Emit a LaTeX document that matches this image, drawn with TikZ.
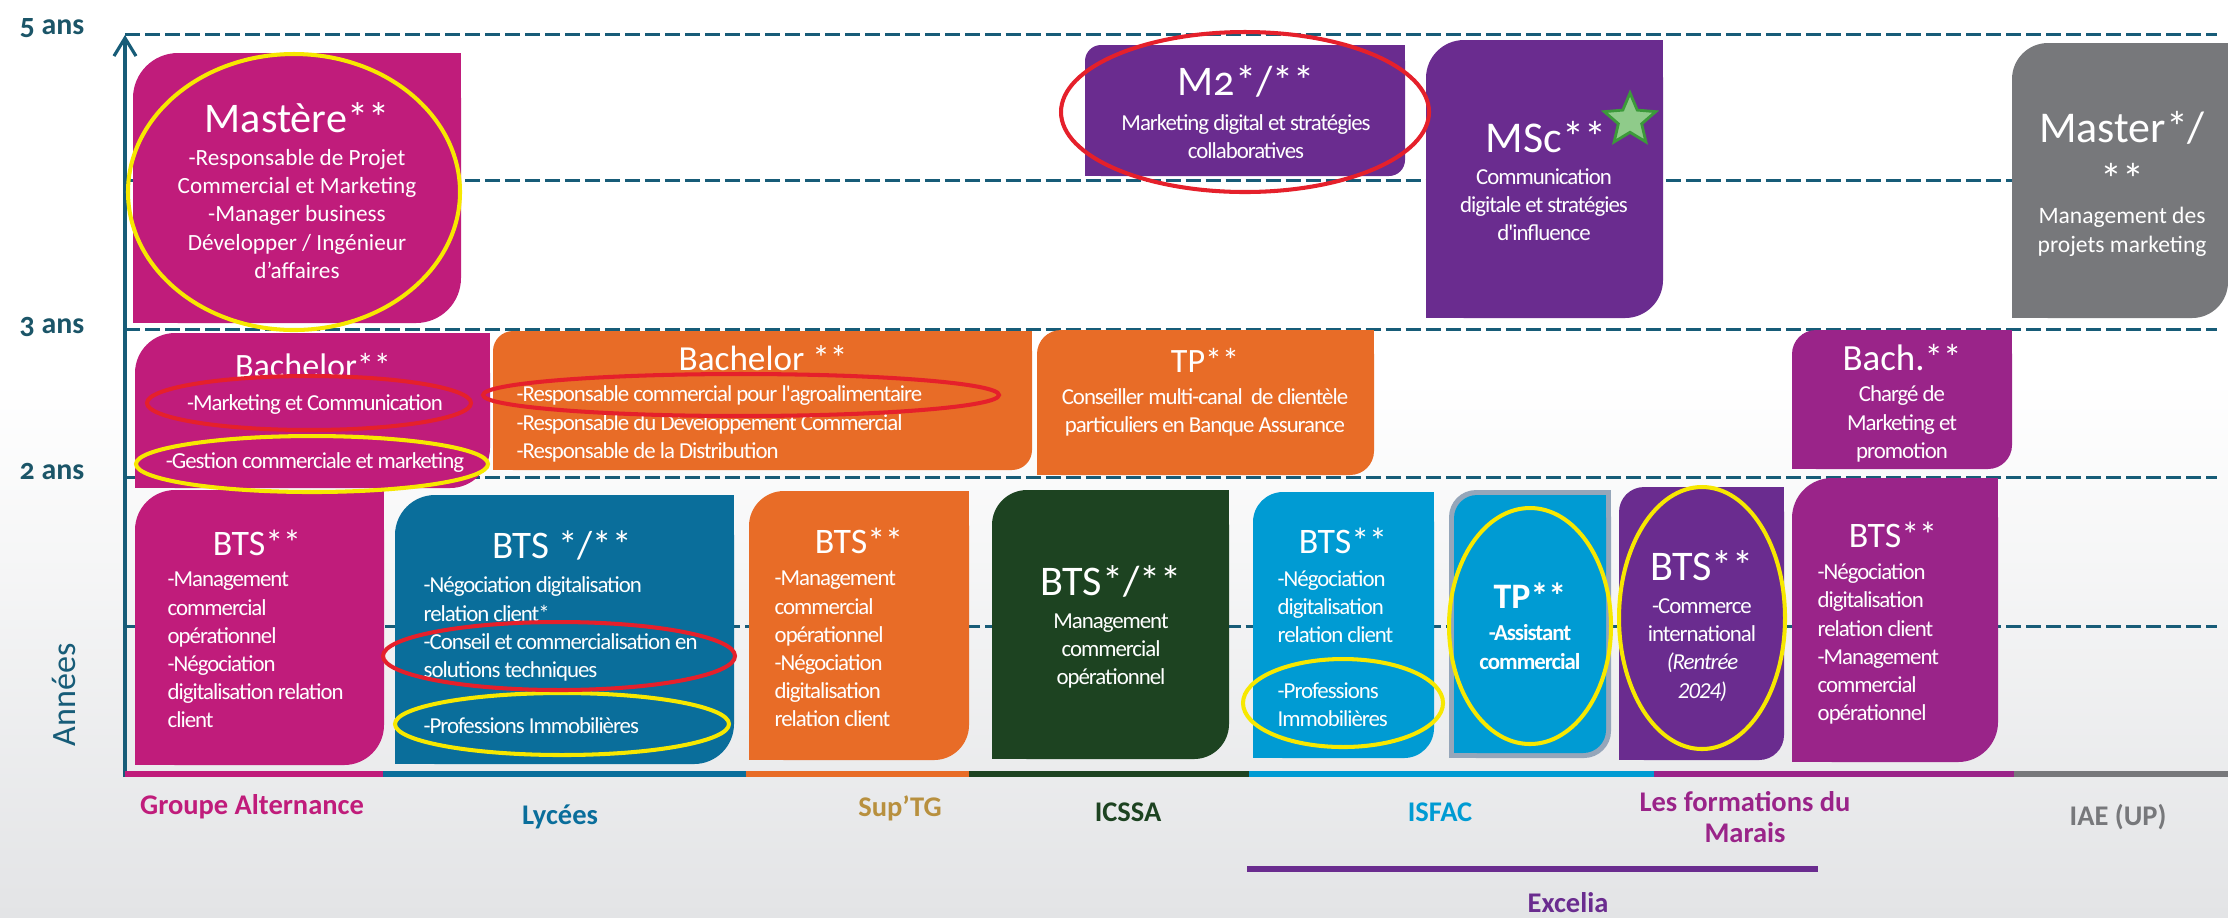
\documentclass[tikz,border=0pt]{standalone}
\usepackage{fontspec}
\setmainfont{Carlito}
\newfontfamily\condfont{Carlito}[LetterSpace=-4.5]
\newfontfamily\numfont{Carlito}[Numbers=OldStyle]
\usetikzlibrary{arrows.meta,shapes.geometric}

\definecolor{gaMag}{HTML}{C01C7B}
\definecolor{supOr}{HTML}{E86C27}
\definecolor{lycTeal}{HTML}{0A6E9B}
\definecolor{icGreen}{HTML}{1D4321}
\definecolor{isBlue}{HTML}{009BD3}
\definecolor{exPurp}{HTML}{6A2C8F}
\definecolor{maPurp}{HTML}{9A2489}
\definecolor{iaeGrey}{HTML}{77787B}
\definecolor{axisBlue}{HTML}{175C78}
\definecolor{ansBlue}{HTML}{1B5568}
\definecolor{supGold}{HTML}{B8903E}
\definecolor{hiYel}{HTML}{F7E800}
\definecolor{hiRed}{HTML}{E5202B}
\definecolor{tpEdge}{HTML}{95A6BA}
\definecolor{starFill}{HTML}{8FCB8A}
\definecolor{starEdge}{HTML}{3C9A3A}
\definecolor{bgGrey}{HTML}{E3E4E6}

% box with rounded top left and bottom right corners
\newcommand\leafbox[6]{%
  \fill[#1, rounded corners=#6] (#2,#3) rectangle (#4,#5);
  \fill[#1] (#4,#3) rectangle ++(-50,50);
  \fill[#1] (#2,#5) rectangle ++(50,-50);
}

\begin{document}
\begin{tikzpicture}[x=0.01cm, y=-0.01cm,
  ttl/.style={text=white, inner sep=0, anchor=base},
  bod/.style={text=white, inner sep=0, font=\condfont\fontsize{6.5}{8.0}\selectfont},
  lbl/.style={inner sep=0, font=\bfseries\fontsize{8.1}{8.8}\selectfont},
  ans/.style={inner sep=0, anchor=base, text=ansBlue, font=\numfont\bfseries\fontsize{8.5}{8.5}\selectfont},
  hl/.style={line width=1.15pt}]
\useasboundingbox (0,0) rectangle (2228,917);
\fill[white] (0,0) rectangle (2228,917);
\shade[top color=white, bottom color=bgGrey] (0,380) rectangle (2228,917);

% year lines
\foreach \y in {34,180,329,477,626}
  \draw[axisBlue, line width=0.85pt, dash pattern=on 0.15cm off 0.05cm] (125,\y) -- (2217,\y);
\draw[axisBlue, line width=0.9pt, -{Straight Barb[length=1.8mm, width=2.2mm]}] (125,777) -- (125,35);

% school colours on the base line
\foreach \a/\b/\c in {125/383/gaMag, 383/746/lycTeal, 746/969/supOr, 969/1249/icGreen,
    1249/1654/isBlue, 1654/2014/maPurp, 2014/2228/iaeGrey}
  \draw[\c, line width=1.6pt] (\a,774) -- (\b,774);
\draw[exPurp, line width=1.6pt] (1247,869) -- (1818,869);

% boxes
\leafbox{gaMag}{133}{53}{461}{323}{0.45cm}
\leafbox{gaMag}{135}{333}{490}{488}{0.40cm}
\leafbox{supOr}{493}{331}{1032}{470}{0.20cm}
\leafbox{supOr}{1037}{330}{1374}{475}{0.24cm}
\leafbox{exPurp}{1085}{45}{1405}{176}{0.16cm}
\leafbox{exPurp}{1426}{40}{1663}{318}{0.38cm}
\leafbox{iaeGrey}{2012}{43}{2228}{318}{0.36cm}
\leafbox{maPurp}{1792}{330}{2012}{469}{0.24cm}
\leafbox{gaMag}{135}{490}{384}{765}{0.40cm}
\leafbox{lycTeal}{395}{495}{734}{764}{0.40cm}
\leafbox{supOr}{749}{491}{969}{760}{0.35cm}
\leafbox{icGreen}{992}{490}{1229}{759}{0.35cm}
\leafbox{isBlue}{1253}{492}{1434}{758}{0.30cm}
\leafbox{tpEdge}{1449}{490}{1611}{758}{0.27cm}
\leafbox{isBlue}{1454}{495}{1606}{753}{0.23cm}
\leafbox{exPurp}{1619}{487}{1784}{760}{0.25cm}
\leafbox{maPurp}{1792}{478}{1998}{762}{0.40cm}

% axis labels
\node[ans] (Y5) at (52,34) {5 ans};
\node[ans] (Y3) at (52,333) {3 ans};
\node[ans] (Y2) at (52,479) {2 ans};
\node[rotate=90, inner sep=0, text=axisBlue, font=\fontsize{9.7}{9.7}\selectfont] (Yr) at (64,695) {Années};

% level 4-5
\node[ttl, font=\fontsize{12}{12}\selectfont] (Mst) at (297,132) {Mastère**};
\node[bod, font=\fontsize{6.6}{8.04}\selectfont, align=center] (MstB) at (297,214)
  {-Responsable de Projet\\Commercial et Marketing\\-Manager business\\Développer / Ingénieur\\d’affaires};
\node[ttl, font=\numfont\fontsize{12}{12}\selectfont] (M2) at (1246,95) {M2*/**};
\node[bod, align=center] (M2B) at (1246,137) {Marketing digital et stratégies\\collaboratives};
\node[ttl, font=\fontsize{12.5}{12.5}\selectfont] (MSc) at (1546,152) {MSc**};
\node[star, star points=5, star point ratio=2.2, minimum size=0.54cm, inner sep=0,
  fill=starFill, draw=starEdge, line width=0.8pt] (Star) at (1630,120) {};
\node[bod, align=center] (MScB) at (1544,205) {Communication\\digitale et stratégies\\d'influence};
\node[ttl, font=\fontsize{12.5}{12.5}\selectfont] (Mas) at (2122,142) {Master*/};
\node[ttl, font=\fontsize{12.5}{12.5}\selectfont] (Mas2) at (2122,194) {**};
\node[bod, font=\fontsize{6.7}{8.2}\selectfont, align=center] (MasB) at (2122,232)
  {Management des\\projets marketing};

% level 3
\node[ttl, font=\fontsize{9.7}{9.7}\selectfont] (BGa) at (313,377) {Bachelor**};
\node[bod] (BGa1) at (315,405) {-Marketing et Communication};
\node[bod] (BGa2) at (315,463) {-Gestion commerciale et marketing};
\node[ttl, font=\fontsize{10}{10}\selectfont] (BSu) at (763,370) {Bachelor **};
\node[bod, anchor=west, align=left] (BSuB) at (516,424)
  {-Responsable commercial pour l'agroalimentaire\\-Responsable du Développement Commercial\\-Responsable de la Distribution};
\node[ttl, font=\fontsize{9.7}{9.7}\selectfont] (TPb) at (1205,372) {TP**};
\node[bod, align=center] (TPbB) at (1205,412) {Conseiller multi-canal \ de clientèle\\particuliers en Banque Assurance};
\node[ttl, font=\fontsize{10.5}{10.5}\selectfont] (BMa) at (1902,370) {Bach.**};
\node[bod, align=center] (BMaB) at (1902,424) {Chargé de\\Marketing et\\promotion};

% level 1-2
\node[ttl, font=\fontsize{10.2}{10.2}\selectfont] (TGa) at (257,555) {BTS**};
\node[bod, anchor=west, align=left] (TGaB) at (167,650)
  {-Management\\commercial\\opérationnel\\-Négociation\\digitalisation relation\\client};
\node[ttl, font=\fontsize{11.1}{11.1}\selectfont] (TLy) at (562,558) {BTS */**};
\node[bod, anchor=west, align=left] (TLyB) at (423,629)
  {-Négociation digitalisation\\relation client*\\-Conseil et commercialisation en\\solutions techniques};
\node[bod, anchor=west] (TLyC) at (423,726) {-Professions Immobilières};
\node[ttl, font=\fontsize{10.2}{10.2}\selectfont] (TSu) at (859,553) {BTS**};
\node[bod, anchor=west, align=left] (TSuB) at (774,649)
  {-Management\\commercial\\opérationnel\\-Négociation\\digitalisation\\relation client};
\node[ttl, font=\fontsize{12}{12}\selectfont] (TIc) at (1111,595) {BTS*/**};
\node[bod, align=center] (TIcB) at (1111,651) {Management\\commercial\\opérationnel};
\node[ttl, font=\fontsize{10.2}{10.2}\selectfont] (TIs) at (1343,553) {BTS**};
\node[bod, anchor=west, align=left] (TIsB) at (1277,607) {-Négociation\\digitalisation\\relation client};
\node[bod, anchor=west, align=left] (TIsC) at (1277,705) {-Professions\\Immobilières};
\node[ttl, font=\bfseries\fontsize{10.2}{10.2}\selectfont] (TPi) at (1530,608) {TP**};
\node[bod, font=\condfont\bfseries\fontsize{6.5}{8.0}\selectfont, align=center] (TPiB) at (1530,647)
  {-Assistant\\commercial};
\node[ttl, font=\fontsize{12}{12}\selectfont] (TMa) at (1702,580) {BTS**};
\node[bod, align=center] (TMaB) at (1702,650)
  {-Commerce\\international\\\textit{(Rentrée}\\\textit{2024)}};
\node[ttl, font=\fontsize{10.2}{10.2}\selectfont] (TMb) at (1893,547) {BTS**};
\node[bod, anchor=west, align=left] (TMbB) at (1817,644)
  {-Négociation\\digitalisation\\relation client\\-Management\\commercial\\opérationnel};

% highlights
\draw[hl, hiYel] (294,192) ellipse [x radius=166, y radius=138];
\draw[hl, hiYel] (312,464) ellipse [x radius=176, y radius=28];
\draw[hl, hiYel] (562,724) ellipse [x radius=167, y radius=31];
\draw[hl, hiYel] (1343,703) ellipse [x radius=100, y radius=44];
\draw[hl, hiYel] (1530,626) ellipse [x radius=81, y radius=118];
\draw[hl, hiYel] (1702,618) ellipse [x radius=83, y radius=131];
\draw[hl, hiRed] (309,403) ellipse [x radius=162, y radius=27];
\draw[hl, hiRed] (741,395) ellipse [x radius=258, y radius=21];
\draw[hl, hiRed] (559,656) ellipse [x radius=176, y radius=34];
\draw[hl, hiRed] (1245,112) ellipse [x radius=184, y radius=80];

% schools
\node[lbl, text=gaMag] (Ga) at (252,807) {Groupe Alternance};
\node[lbl, text=lycTeal] (Ly) at (560,817) {Lycées};
\node[lbl, text=supGold] (Su) at (900,808) {Sup'TG};
\node[lbl, text=icGreen] (Ic) at (1128,812) {ICSSA};
\node[lbl, text=isBlue] (Is) at (1440,812) {ISFAC};
\node[lbl, text=maPurp, align=center] (Ma) at (1745,817) {Les formations du\\Marais};
\node[lbl, text=iaeGrey] (Ia) at (2118,817) {IAE (UP)};
\node[lbl, text=exPurp] (Ex) at (1568,903) {Excelia};
\end{tikzpicture}
\end{document}
